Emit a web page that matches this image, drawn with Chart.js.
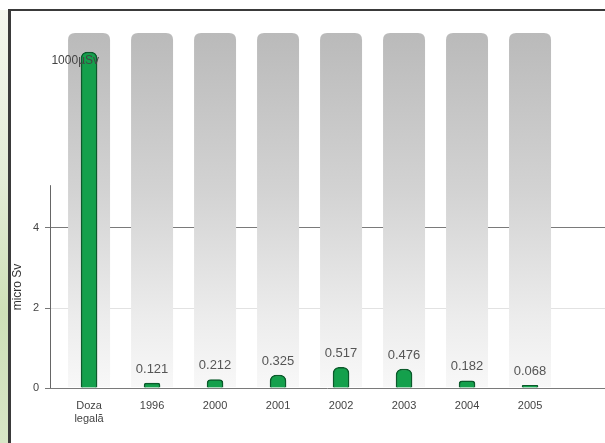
<!DOCTYPE html>
<html>
<head>
<meta charset="utf-8">
<script src="https://cdn.jsdelivr.net/npm/chart.js@4/dist/chart.umd.min.js"></script>
<style>
  html, body { margin: 0; padding: 0; background: #ffffff; }
  #wrap { width: 605px; height: 443px; position: relative; }
</style>
</head>
<body>
<div id="wrap"><canvas id="c" width="605" height="443"></canvas></div>
<script>
// ---- data ----
const categories = [['Doza', 'legală'], '1996', '2000', '2001', '2002', '2003', '2004', '2005'];
// first bar (legal dose, 1000 µSv) is drawn on a broken scale: height as shown in the picture
const doseValues = [8.4, 0.121, 0.212, 0.325, 0.517, 0.476, 0.182, 0.068];
const valueLabels = ['1000µSv', '0.121', '0.212', '0.325', '0.517', '0.476', '0.182', '0.068'];
const yTickValues = [0, 2, 4];
const yAxisTitle = 'micro Sv';

// ---- style / layout constants ----
const Y_MAX = 8.875;
const AXIS_LINE_TOP = 5.07;
const FONT = '"Liberation Sans", Arial, sans-serif';

const framePlugin = {
  id: 'frame',
  beforeDraw(chart) {
    const ctx = chart.ctx;
    ctx.save();
    ctx.fillStyle = '#ffffff';
    ctx.fillRect(0, 0, chart.width, chart.height);
    // green strip on the far left
    const g = ctx.createLinearGradient(0, 10, 0, chart.height);
    g.addColorStop(0, '#f4f7ee');
    g.addColorStop(0.4, '#e3ecd6');
    g.addColorStop(0.7, '#cfe0b8');
    g.addColorStop(1, '#d8e6c6');
    ctx.fillStyle = g;
    ctx.fillRect(0, 10, 8, chart.height - 10);
    // frame lines
    ctx.strokeStyle = '#3a3a3a';
    ctx.lineWidth = 2;
    ctx.beginPath();
    ctx.moveTo(8, 10);
    ctx.lineTo(chart.width, 10);
    ctx.stroke();
    ctx.lineWidth = 3;
    ctx.beginPath();
    ctx.moveTo(9.5, 9);
    ctx.lineTo(9.5, chart.height);
    ctx.stroke();
    ctx.restore();
  },
  beforeDatasetsDraw(chart) {
    // grey background columns
    const ctx = chart.ctx;
    const xs = chart.scales.x;
    const area = chart.chartArea;
    const w = 42, r = 7;
    ctx.save();
    const g = ctx.createLinearGradient(0, area.top, 0, area.bottom);
    g.addColorStop(0, '#bababa');
    g.addColorStop(0.45, '#d3d3d3');
    g.addColorStop(0.8, '#ececec');
    g.addColorStop(1, '#f8f8f8');
    ctx.fillStyle = g;
    categories.forEach((c, i) => {
      const cx = xs.getPixelForValue(i);
      const x0 = cx - w / 2, y0 = area.top, y1 = area.bottom - 1;
      ctx.beginPath();
      ctx.moveTo(x0, y1);
      ctx.lineTo(x0, y0 + r);
      ctx.quadraticCurveTo(x0, y0, x0 + r, y0);
      ctx.lineTo(x0 + w - r, y0);
      ctx.quadraticCurveTo(x0 + w, y0, x0 + w, y0 + r);
      ctx.lineTo(x0 + w, y1);
      ctx.closePath();
      ctx.fill();
    });
    ctx.restore();
  },
  afterDatasetsDraw(chart) {
    const ctx = chart.ctx;
    const ys = chart.scales.y;
    const area = chart.chartArea;
    ctx.save();
    // y axis line (only up to ~5)
    ctx.strokeStyle = '#666666';
    ctx.lineWidth = 1;
    ctx.beginPath();
    ctx.moveTo(area.left + 0.5, ys.getPixelForValue(AXIS_LINE_TOP));
    ctx.lineTo(area.left + 0.5, ys.getPixelForValue(0));
    ctx.stroke();
    // value labels
    const meta = chart.getDatasetMeta(0);
    ctx.textBaseline = 'middle';
    meta.data.forEach((bar, i) => {
      if (i === 0) {
        ctx.font = '12px ' + FONT;
        ctx.textAlign = 'right';
        ctx.fillStyle = '#444444';
        ctx.fillText(valueLabels[i], bar.x + 10, bar.y + 9);
      } else {
        ctx.font = '13px ' + FONT;
        ctx.textAlign = 'center';
        ctx.fillStyle = '#555555';
        ctx.fillText(valueLabels[i], bar.x, bar.y - 14);
      }
    });
    // y axis title
    ctx.font = '12px ' + FONT;
    ctx.fillStyle = '#333333';
    ctx.textAlign = 'center';
    ctx.translate(18, 287);
    ctx.rotate(-Math.PI / 2);
    ctx.fillText(yAxisTitle, 0, 0);
    ctx.restore();
  }
};

new Chart(document.getElementById('c'), {
  type: 'bar',
  data: {
    datasets: [{
      data: doseValues.map((v, i) => ({ x: i, y: v })),
      backgroundColor: '#14a04c',
      borderColor: '#0b5a2b',
      borderWidth: 1.5,
      borderRadius: 6,
      borderSkipped: 'bottom',
      barThickness: 16
    }]
  },
  options: {
    responsive: false,
    animation: false,
    devicePixelRatio: 1,
    layout: { padding: { top: 33, left: 0, right: 0, bottom: 0 } },
    plugins: { legend: { display: false }, tooltip: { enabled: false } },
    scales: {
      x: {
        type: 'linear',
        min: -0.62,
        max: 8.19,
        offset: false,
        afterFit(s) { s.height = 55; },
        afterBuildTicks(s) { s.ticks = categories.map((c, i) => ({ value: i })); },
        grid: { display: false, offset: false, drawTicks: false },
        border: { display: false },
        ticks: {
          autoSkip: false,
          maxRotation: 0,
          padding: 11,
          color: '#444444',
          font: { family: FONT, size: 11, lineHeight: 1.2 },
          callback: (v) => categories[v]
        }
      },
      y: {
        min: 0,
        max: Y_MAX,
        afterFit(s) { s.width = 50; },
        afterBuildTicks(s) { s.ticks = yTickValues.map(v => ({ value: v })); },
        border: { display: false },
        grid: {
          color: (c) => c.tick && c.tick.value === 2 ? '#e2e2e2' : '#7a7a7a',
          tickColor: '#777777',
          tickLength: 5,
          lineWidth: 1
        },
        ticks: {
          padding: 6,
          color: '#444444',
          font: { family: FONT, size: 11 }
        }
      }
    }
  },
  plugins: [framePlugin]
});
</script>
</body>
</html>
